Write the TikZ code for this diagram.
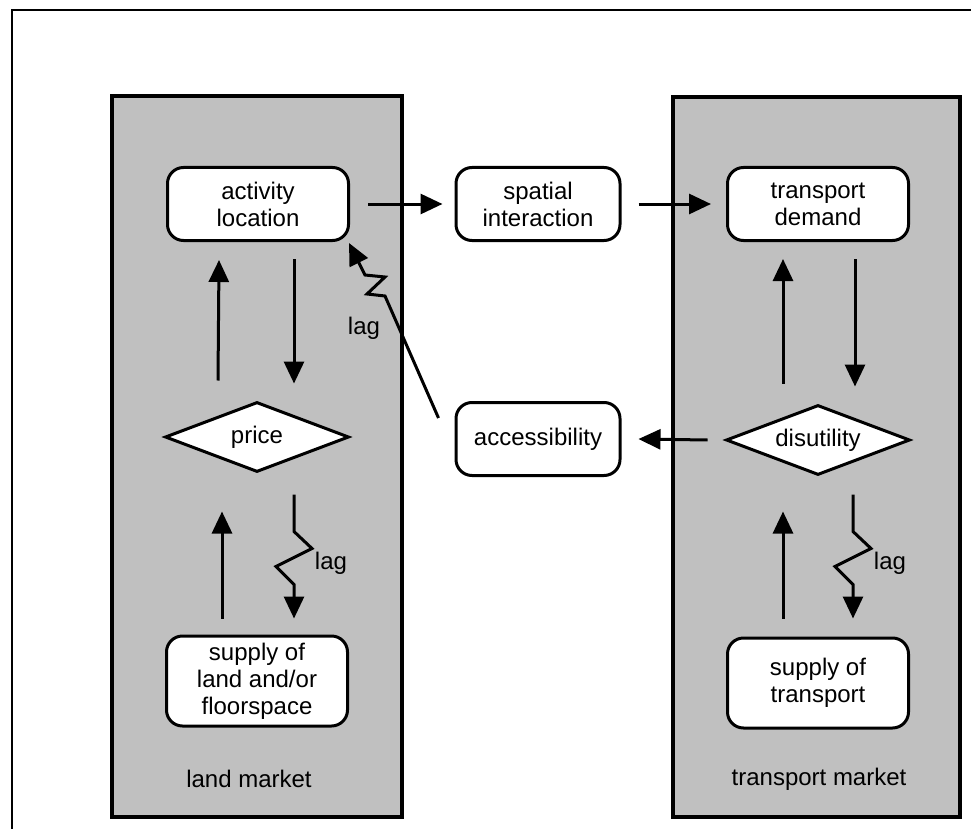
\documentclass[tikz,border=0pt]{standalone}
\usepackage{fontspec}
\setmainfont{Liberation Sans}
\usetikzlibrary{arrows.meta,shapes.geometric,calc}
\definecolor{mgray}{HTML}{C0C0C0}
\begin{document}
\begin{tikzpicture}[x=1pt,y=-1pt,
  font=\fontsize{24}{27}\selectfont,
  frame/.style={draw, line width=2.2pt},
  market/.style={draw, line width=3.2pt, fill=mgray},
  rbox/.style={draw, line width=3pt, fill=white, rounded corners=16pt,
    minimum width=181pt, minimum height=73pt, align=center, inner sep=2pt},
  midbox/.style={rbox, minimum width=164pt},
  tallbox/.style={rbox, minimum height=90pt},
  dia/.style={draw, diamond, line width=3pt, fill=white, minimum width=184pt,
    minimum height=70pt, inner sep=0pt, aspect=2.7},
  arr/.style={line width=3pt, -{Triangle[length=22pt,width=20pt]}},
  lagarr/.style={arr, line join=miter},
  lbl/.style={inner sep=0pt}]
\useasboundingbox (0,0) rectangle (971,829);
% outer frame (extends beyond the page on right and bottom)
\draw[frame] (12,845) -- (12,10) -- (990,10);
% market panels
\draw[market] (112,96) rectangle (402,817);
\draw[market] (673,97) rectangle (960,817);
% nodes
\node[rbox] (act) at (258,204) {activity\\location};
\node[midbox] (spat) at (538,204) {spatial\\interaction};
\node[rbox] (tdem) at (818,204) {transport\\demand};
\node[midbox] (acc) at (538,439) {accessibility};
\node[dia] (price) at (257,437) {price};
\node[dia] (dis) at (818,440) {disutility};
\node[tallbox] (sland) at (257,681) {supply of\\land and/or\\floorspace};
\node[tallbox] (strans) at (818,683) {supply of\\transport};
\node[lbl] (lm) at (249,779) {land market};
\node[lbl] (tm) at (819,779) {transport market};
% horizontal connectors
\draw[arr] ($(act.east)+(18,0)$) -- ($(spat.west)+(-12,0)$);
\draw[arr] ($(spat.east)+(17,0)$) -- ($(tdem.west)+(-15,0)$);
\draw[arr] ($(dis.west)+(-17,0)$) -- ($(acc.east)+(17,0)$);
% left column
\draw[arr] ($(price.north)+(-39,-20)$) -- ($(act.south)+(-39,18)$);
\draw[arr] ($(act.south)+(36,17)$) -- ($(price.north)+(37,-17)$);
\draw[arr] ($(sland.north)+(-35,-16)$) -- ($(price.south)+(-35,38)$);
\draw[lagarr] ($(price.south)+(37,21)$) -- ++(0,37) -- ++(18,17) -- ++(-36,18) -- ++(18,18) -- ($(sland.north)+(37,-16)$);
\node[lbl] (lag1) at (331,563) {lag};
% right column
\draw[arr] ($(dis.north)+(-35,-20)$) -- ($(tdem.south)+(-35,17)$);
\draw[arr] ($(tdem.south)+(37,17)$) -- ($(dis.north)+(37,-17)$);
\draw[arr] ($(strans.north)+(-35,-18)$) -- ($(dis.south)+(-35,35)$);
\draw[lagarr] ($(dis.south)+(35,18)$) -- ++(0,37) -- ++(18,17) -- ++(-36,18) -- ++(18,18) -- ($(strans.north)+(35,-18)$);
\node[lbl] (lag2) at (890,563) {lag};
% lag from accessibility back to activity location
\draw[lagarr] ($(acc.north west)+(-16,17)$) -- (385,296) -- (367,294) -- (385,277) -- (365,275) -- ($(act.south east)+(-1,1)$);
\node[lbl] (lag3) at (364,328) {lag};
\end{tikzpicture}
\end{document}
